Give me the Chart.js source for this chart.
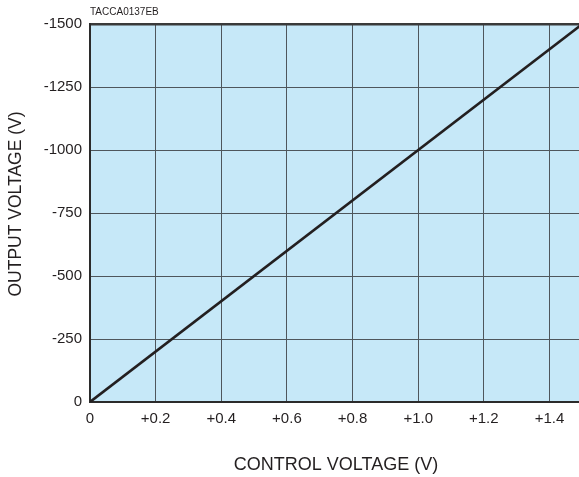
<!DOCTYPE html>
<html>
<head>
<meta charset="utf-8">
<script src="https://cdn.jsdelivr.net/npm/chart.js@4"></script>
<style>
  html, body { margin: 0; padding: 0; background: #ffffff; }
  #wrap { width: 579px; height: 477px; position: relative; }
</style>
</head>
<body>
<div id="wrap"><canvas id="c" width="579" height="477"></canvas></div>
<script>
const controlVoltage = [0, 1.5];
const outputVoltage = [0, -1500];
const xTickValues = [0, 0.2, 0.4, 0.6, 0.8, 1.0, 1.2, 1.4];
const xTickLabels = ['0', '+0.2', '+0.4', '+0.6', '+0.8', '+1.0', '+1.2', '+1.4'];
const yTickValues = [0, -250, -500, -750, -1000, -1250, -1500];
const yTickLabels = ['0', '-250', '-500', '-750', '-1000', '-1250', '-1500'];
const xTitle = 'CONTROL VOLTAGE (V)';
const yTitle = 'OUTPUT VOLTAGE (V)';
const figureCode = 'TACCA0137EB';

const FONT = '"Liberation Sans", Arial, Helvetica, sans-serif';

const decor = {
  id: 'decor',
  beforeDraw(chart) {
    const {ctx, chartArea: a} = chart;
    ctx.save();
    ctx.fillStyle = '#c6e8f8';
    ctx.fillRect(a.left, a.top, a.right - a.left, a.bottom - a.top);
    ctx.restore();
  },
  afterDraw(chart) {
    const {ctx, chartArea: a} = chart;
    ctx.save();
    ctx.fillStyle = '#231f20';
    ctx.font = '10px ' + FONT;
    ctx.textAlign = 'left';
    ctx.textBaseline = 'middle';
    ctx.fillText(figureCode, 90, 12.5);
    ctx.font = '18px ' + FONT;
    ctx.textAlign = 'center';
    ctx.fillText(xTitle, 336, 465);
    ctx.translate(16, 204);
    ctx.rotate(-Math.PI / 2);
    ctx.font = '17.5px ' + FONT;
    ctx.fillText(yTitle, 0, 0);
    ctx.restore();
  }
};

const points = controlVoltage.map((x, i) => ({x, y: outputVoltage[i]}));

new Chart(document.getElementById('c'), {
  type: 'line',
  data: {
    datasets: [{
      data: points,
      borderColor: '#231f20',
      borderWidth: 2.6,
      pointRadius: 0,
      tension: 0,
      fill: false
    }]
  },
  options: {
    responsive: false,
    animation: false,
    devicePixelRatio: 1,
    layout: { padding: { top: 24, right: 0, left: 0, bottom: 0 } },
    plugins: { legend: { display: false }, tooltip: { enabled: false }, title: { display: false } },
    scales: {
      x: {
        type: 'linear',
        min: 0,
        max: 1.49,
        afterFit(s) { s.height = 75; },
        afterBuildTicks(s) { s.ticks = xTickValues.map(v => ({value: v})); },
        ticks: {
          padding: 8,
          color: '#231f20',
          font: { family: FONT, size: 15 },
          maxRotation: 0,
          autoSkip: false,
          callback(v) { const i = xTickValues.findIndex(t => Math.abs(t - v) < 1e-9); return i >= 0 ? xTickLabels[i] : ''; }
        },
        grid: {
          drawTicks: false,
          color: (c) => (c.tick && c.tick.value === 0) ? 'rgba(0,0,0,0)' : '#4e565c',
          lineWidth: 1
        },
        border: { display: true, color: '#2b2b2b', width: 2 }
      },
      y: {
        type: 'linear',
        min: -1500,
        max: 0,
        reverse: true,
        afterFit(s) { s.width = 90; },
        afterBuildTicks(s) { s.ticks = yTickValues.map(v => ({value: v})); },
        ticks: {
          padding: 8,
          color: '#231f20',
          font: { family: FONT, size: 15 },
          autoSkip: false,
          callback(v) { const i = yTickValues.indexOf(v); return i >= 0 ? yTickLabels[i] : ''; }
        },
        grid: {
          drawTicks: false,
          color: (c) => {
            if (!c.tick) return '#4e565c';
            if (c.tick.value === 0) return 'rgba(0,0,0,0)';
            if (c.tick.value === -1500) return '#3a3a3a';
            return '#4e565c';
          },
          lineWidth: (c) => (c.tick && c.tick.value === -1500) ? 2.5 : 1
        },
        border: { display: true, color: '#2b2b2b', width: 2 }
      }
    }
  },
  plugins: [decor]
});
</script>
</body>
</html>
